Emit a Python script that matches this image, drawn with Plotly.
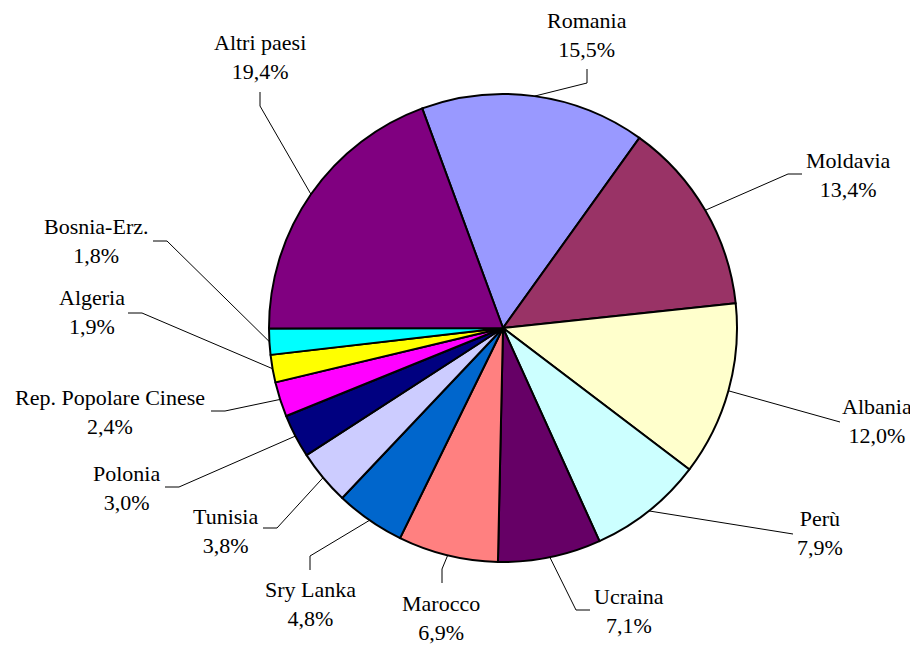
import math
import plotly.graph_objects as go

# ---- data ----
countries = ["Romania", "Moldavia", "Albania", "Perù", "Ucraina", "Marocco",
             "Sry Lanka", "Tunisia", "Polonia", "Rep. Popolare Cinese",
             "Algeria", "Bosnia-Erz.", "Altri paesi"]
shares = [15.5, 13.4, 12.0, 7.9, 7.1, 6.9, 4.8, 3.8, 3.0, 2.4, 1.9, 1.8, 19.4]
colors = ["#9999FF", "#993366", "#FFFFCC", "#CCFFFF", "#660066", "#FF8080",
          "#0066CC", "#CCCCFF", "#000080", "#FF00FF", "#FFFF00", "#00FFFF",
          "#800080"]

# ---- layout (screen-pixel positions of the hand-placed labels) ----
OFF = 8                      # default page margin around the plot div
W, H = 918 - OFF, 645 - OFF  # figure size that fits the window
CX, CY, R = 503, 328, 234
ROTATION = -20.2
label_xy = [(587, 35), (848, 175), (877, 421), (820, 533), (629, 611), (441, 618),
            (310, 604), (225, 531), (126, 488), (110, 412), (92, 312), (96, 241),
            (260, 57)]
leader_end = [(587, 69), (802, 174), (840, 422), (793, 534), (590, 610), (442, 583),
              (310, 570), (263, 528), (165, 487), (211, 411), (128, 313), (153, 241),
              (260, 92)]
leader_dir = ["v", "h", "", "", "h", "v", "v", "h", "h", "h", "h", "h", "v"]
ELBOW = 14

fig = go.Figure()

fig.add_trace(go.Pie(
    labels=countries, values=shares, sort=False, direction="clockwise",
    rotation=ROTATION, textinfo="none", hoverinfo="label+percent",
    marker=dict(colors=colors, line=dict(color="black", width=2)),
    domain=dict(x=[(CX - R - OFF) / W, (CX + R - OFF) / W],
                y=[(OFF + H - (CY + R)) / H, (OFF + H - (CY - R)) / H]),
    showlegend=False,
))

# leader lines: attach at slice mid-angle
total = sum(shares)
ang = ROTATION
xs, ys = [], []
annotations = []
for i, v in enumerate(shares):
    span = v / total * 360.0
    mid = math.radians(ang + span / 2)
    ang += span
    px, py = CX + R * math.sin(mid), CY - R * math.cos(mid)
    ex, ey = leader_end[i]
    pts = [(px, py)]
    if leader_dir[i] == "h":
        pts.append((ex + ELBOW * (1 if CX > ex else -1), ey))
    elif leader_dir[i] == "v":
        pts.append((ex, ey + ELBOW * (1 if CY > ey else -1)))
    pts.append((ex, ey))
    for (a, b) in pts:
        xs.append(a)
        ys.append(b)
    xs.append(None)
    ys.append(None)
    lx, ly = label_xy[i]
    pct = f"{v:.1f}%".replace(".", ",")
    annotations.append(dict(
        x=lx, y=ly, xref="x", yref="y", text=f"{countries[i]}<br>{pct}",
        showarrow=False, xanchor="center", yanchor="middle", align="center",
        font=dict(family="Liberation Serif, Times New Roman, serif", size=22, color="black"),
    ))

fig.add_trace(go.Scatter(x=xs, y=ys, mode="lines", line=dict(color="black", width=1),
                         hoverinfo="skip", showlegend=False))

fig.update_layout(
    width=W, height=H, margin=dict(l=0, r=0, t=0, b=0),
    paper_bgcolor="white", plot_bgcolor="rgba(0,0,0,0)",
    xaxis=dict(range=[OFF, OFF + W], visible=False, fixedrange=True),
    yaxis=dict(range=[OFF + H, OFF], visible=False, fixedrange=True),
    annotations=annotations,
)

fig.write_html("out.html")
